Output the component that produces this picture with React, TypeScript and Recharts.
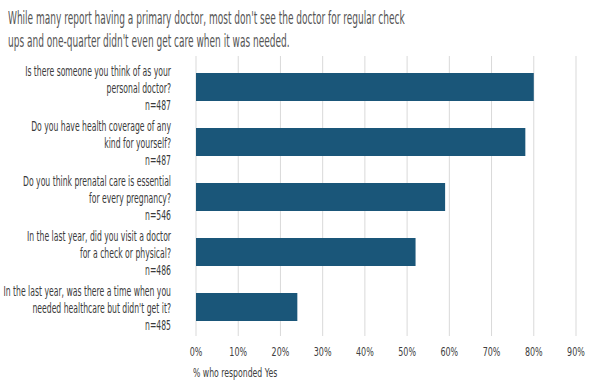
import React from "react";
import { Bar, BarChart, CartesianGrid, XAxis, YAxis } from "recharts";

const questions = [
  ["Is there someone you think of as your", "personal doctor?", "n=487"],
  ["Do you have health coverage of any", "kind for yourself?", "n=487"],
  ["Do you think prenatal care is essential", "for every pregnancy?", "n=546"],
  ["In the last year, did you visit a doctor", "for a check or physical?", "n=486"],
  ["In the last year, was there a time when you", "needed healthcare but didn't get it?", "n=485"],
];
const yesShare = [80, 78, 59, 52, 24];
const xTicks = [0, 10, 20, 30, 40, 50, 60, 70, 80, 90];

const data = questions.map((q, i) => ({ name: q.join("|"), yes: yesShare[i] }));

const FONT = "'DejaVu Sans', sans-serif";

const QuestionTick = (props: any) => {
  const { x, y, payload } = props;
  const lines = String(payload.value).split("|");
  return (
    <g>
      {lines.map((l, i) => (
        <text
          key={i}
          transform={`translate(${x - 17},${y + (i - 1) * 17 + 2}) scale(0.55,1)`}
          textAnchor="end"
          dominantBaseline="central"
          fill="#3a3a3a"
          fontSize={14}
          fontFamily={FONT}
        >
          {l}
        </text>
      ))}
    </g>
  );
};

const PercentTick = (props: any) => {
  const { x, y, payload } = props;
  return (
    <text
      transform={`translate(${x},${y + 5}) scale(0.64,1)`}
      textAnchor="middle"
      dominantBaseline="central"
      fill="#404040"
      fontSize={12.5}
      fontFamily={FONT}
    >
      {`${payload.value}%`}
    </text>
  );
};

export default function App() {
  return (
    <div style={{ position: "absolute", left: 0, top: 0, width: 602, height: 391, background: "#fff" }}>
      <div
        style={{
          position: "absolute",
          left: 8,
          top: 6,
          fontFamily: FONT,
          fontSize: 18,
          lineHeight: "23px",
          color: "#555",
          whiteSpace: "nowrap",
          transform: "scaleX(0.5)",
          transformOrigin: "0 0",
        }}
      >
        While many report having a primary doctor, most don't see the doctor for regular check
        <br />
        ups and one-quarter didn't even get care when it was needed.
      </div>
      <BarChart
        width={602}
        height={391}
        data={data}
        layout="vertical"
        margin={{ top: 56, right: 26, bottom: 25, left: 0 }}
        barSize={28}
      >
        <CartesianGrid horizontal={false} stroke="#d9d9d9" />
        <XAxis
          type="number"
          domain={[0, 90]}
          ticks={xTicks}
          axisLine={false}
          tickLine={false}
          tickMargin={4}
          tick={<PercentTick />}
          height={30}
        />
        <YAxis
          type="category"
          dataKey="name"
          width={196}
          axisLine={false}
          tickLine={false}
          padding={{ top: 3, bottom: 2 }}
          tick={<QuestionTick />}
          interval={0}
        />
        <Bar dataKey="yes" fill="#1a5679" isAnimationActive={false} />
      </BarChart>
      <div
        style={{
          position: "absolute",
          left: 193,
          top: 365,
          fontFamily: FONT,
          fontSize: 12.5,
          color: "#404040",
          whiteSpace: "nowrap",
          transform: "scaleX(0.62)",
          transformOrigin: "0 0",
        }}
      >
        % who responded Yes
      </div>
    </div>
  );
}
